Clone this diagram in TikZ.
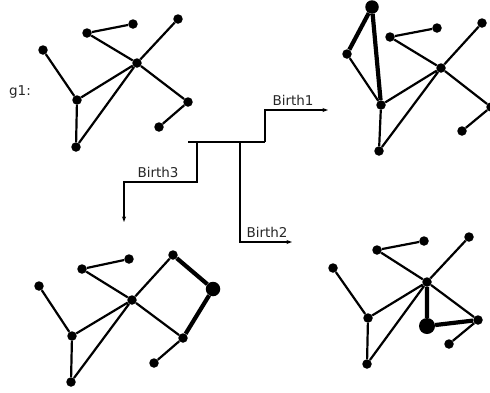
\documentclass[tikz,border=0pt]{standalone}
\usepackage{fontspec}
\setmainfont{DejaVu Sans}
\usetikzlibrary{arrows.meta}
\begin{document}
\begin{tikzpicture}[x=1pt,y=-1pt,
  dot/.style={circle,fill=black,inner sep=0pt,minimum size=9.5pt},
  bigdot/.style={circle,fill=black,inner sep=0pt,minimum size=#1},
  edge/.style={line width=2.2pt},
  heavy/.style={line width=4.2pt},
  flow/.style={line width=1.4pt},
  flowarrow/.style={flow,-{Stealth[length=5.5pt,width=4pt]}},
  lbl/.style={font=\fontsize{13.5}{15}\selectfont,inner sep=0pt,text=black!85}]
\useasboundingbox (0,0) rectangle (490,392);

% ---------- g1 ----------
\node[lbl] (g1lbl) at (20,92) {g1:};
\node[dot] (Aa) at (87,33) {};
\node[dot] (Ab) at (133,24) {};
\node[dot] (Ac) at (178,19) {};
\node[dot] (Ah) at (137,63) {};
\node[dot] (Ad) at (43,50) {};
\node[dot] (Ae) at (77,100) {};
\node[dot] (Af) at (76,147) {};
\node[dot] (Ag) at (188,102) {};
\node[dot] (Ai) at (159,127) {};
\draw[edge] (Aa)--(Ab) (Aa)--(Ah) (Ac)--(Ah) (Ah)--(Ag) (Ag)--(Ai)
  (Ah)--(Ae) (Ah)--(Af) (Ad)--(Ae) (Ae)--(Af);

% ---------- Birth1 ----------
\node[bigdot=13.5pt] (Bn) at (372,7) {};
\node[dot] (Bd) at (347,54) {};
\node[dot] (Be) at (381,105) {};
\node[dot] (Bf) at (379,151) {};
\node[dot] (Ba) at (390,37) {};
\node[dot] (Bb) at (437,28) {};
\node[dot] (Bc) at (482,23) {};
\node[dot] (Bh) at (441,68) {};
\node[dot] (Bg) at (491,107) {};
\node[dot] (Bi) at (462,131) {};
\draw[heavy] (Bn)--(Bd) (Bn)--(Be);
\draw[edge] (Bd)--(Be) (Be)--(Bf) (Be)--(Bh) (Bh)--(Bf) (Ba)--(Bb)
  (Ba)--(Bh) (Bc)--(Bh) (Bh)--(Bg) (Bg)--(Bi);

% ---------- Birth3 ----------
\node[dot] (Cd) at (39,286) {};
\node[dot] (Ca) at (82,269) {};
\node[dot] (Cb) at (129,259) {};
\node[dot] (Ch) at (132,300) {};
\node[dot] (Cc) at (173,255) {};
\node[bigdot=14.5pt] (Cn) at (213,289) {};
\node[dot] (Cg) at (183,338) {};
\node[dot] (Ci) at (154,363) {};
\node[dot] (Ce) at (72,336) {};
\node[dot] (Cf) at (71,382) {};
\draw[heavy] (Cc)--(Cn) (Cn)--(Cg);
\draw[edge] (Cd)--(Ce) (Ca)--(Cb) (Ca)--(Ch) (Ch)--(Cc) (Ch)--(Cg)
  (Cg)--(Ci) (Ch)--(Ce) (Ch)--(Cf) (Ce)--(Cf);

% ---------- Birth2 ----------
\node[dot] (Dd) at (333,268) {};
\node[dot] (Da) at (377,250) {};
\node[dot] (Db) at (424,241) {};
\node[dot] (Dc) at (469,237) {};
\node[dot] (Dh) at (427,282) {};
\node[dot] (De) at (368,318) {};
\node[dot] (Df) at (367,364) {};
\node[bigdot=16pt] (Dn) at (427,326) {};
\node[dot] (Dg) at (478,320) {};
\node[dot] (Di) at (449,344) {};
\draw[heavy] (Dh)--(Dn) (Dn)--(Dg);
\draw[edge] (Dd)--(De) (Da)--(Db) (Da)--(Dh) (Dh)--(Dc) (Dh)--(De)
  (Dh)--(Df) (De)--(Df) (Dh)--(Dg) (Dg)--(Di);

% ---------- branching arrows ----------
\coordinate (t0) at (188,142);
\coordinate (t1) at (197,142);
\coordinate (t2) at (240,142);
\coordinate (t3) at (265,142);
\coordinate (s3) at (197,182);
\coordinate (e3) at (124,222);
\coordinate (e1) at (328,110);
\coordinate (e2) at (292,242);
\draw[flow] (t0)--(t3);
\draw[flowarrow] (t3) |- (e1);
\draw[flowarrow] (t2) |- (e2);
\draw[flowarrow] (t1) -- (s3) -| (e3);
\node[lbl] (b1) at (293,100) {Birth1};
\node[lbl] (b2) at (267,232) {Birth2};
\node[lbl] (b3) at (158,172) {Birth3};
\end{tikzpicture}
\end{document}
